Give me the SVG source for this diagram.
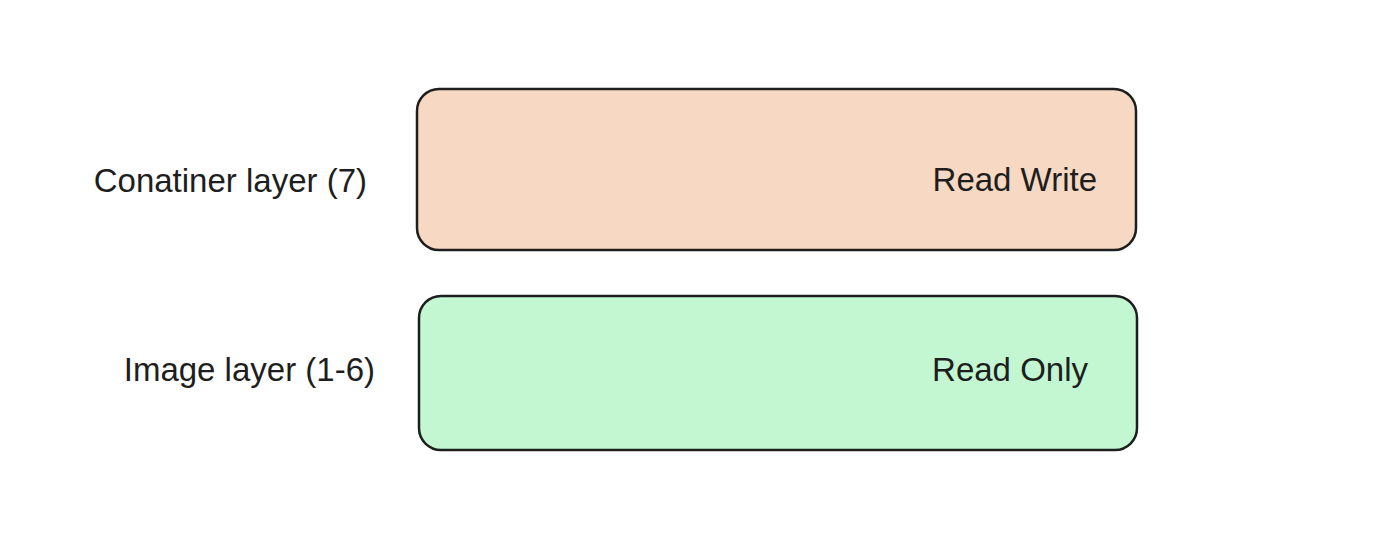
<svg xmlns="http://www.w3.org/2000/svg" width="1400" height="556" viewBox="0 0 1400 556">
<style>
.box{stroke:#1e1e1e;stroke-width:2.5}
.t{font-family:"Liberation Sans",Arial,sans-serif;font-size:33px;fill:#1e1e1e}
</style>
<rect x="0" y="0" width="1400" height="556" fill="#ffffff"/>
<g id="container-layer">
<rect class="box" x="417" y="89" width="719" height="161" rx="22" fill="#f7d8c2"/>
<text class="t" x="1097" y="191" text-anchor="end">Read Write</text>
</g>
<g id="image-layer">
<rect class="box" x="419" y="296" width="718" height="154" rx="22" fill="#c2f7d2"/>
<text class="t" x="1088" y="381" text-anchor="end">Read Only</text>
</g>
<g id="labels">
<text class="t" x="367" y="192" text-anchor="end">Conatiner layer (7)</text>
<text class="t" x="375" y="381" text-anchor="end">Image layer (1-6)</text>
</g>
<g id="connectors"></g>
</svg>
